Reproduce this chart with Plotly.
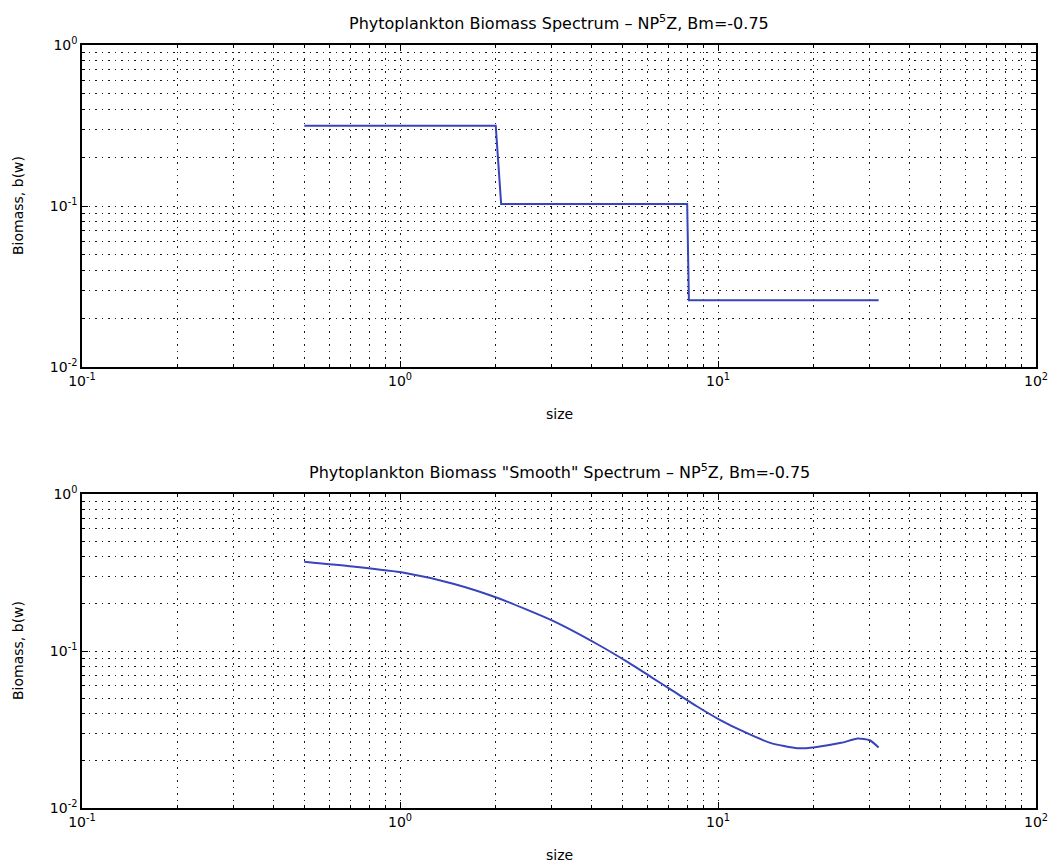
import numpy as np
import plotly.graph_objects as go

# ---- data ----
step_size = [0.5, 2.0, 2.08, 8.0, 8.1, 32.0]
step_biomass = [0.315, 0.315, 0.103, 0.103, 0.026, 0.026]

smooth_size = [0.5, 0.71, 1.03, 1.47, 2.06, 3.04, 4.19, 5.25, 6.18, 7.11, 8.6,
               10.1, 12.1, 14.6, 17.8, 20.2, 24.4, 27.5, 30.0, 32.0]
smooth_biomass = [0.37, 0.345, 0.315, 0.268, 0.215, 0.155, 0.110, 0.084, 0.068,
                  0.0568, 0.0443, 0.0366, 0.0305, 0.026, 0.0240, 0.0244, 0.0260,
                  0.0277, 0.0270, 0.0243]

x_major = [0.1, 1, 10, 100]
x_major_text = ["10<sup>-1</sup>", "10<sup>0</sup>", "10<sup>1</sup>", "10<sup>2</sup>"]
y_major = [0.01, 0.1, 1]
y_major_text = ["10<sup>-2</sup>", "10<sup>-1</sup>", "10<sup>0</sup>"]

titles = ["Phytoplankton Biomass Spectrum \u2013 NP<sup>5</sup>Z, Bm=-0.75",
          "Phytoplankton Biomass \"Smooth\" Spectrum \u2013 NP<sup>5</sup>Z, Bm=-0.75"]
x_label = "size"
y_label = "Biomass, b(w)"

x_minor = [k * 10.0 ** e for e in (-1, 0, 1) for k in range(2, 10)]
y_minor = [k * 10.0 ** e for e in (-2, -1) for k in range(2, 10)]

W, H = 1060, 867
FONT = "DejaVu Sans"
LINE = "rgb(55,68,188)"

fig = go.Figure()
fig.add_trace(go.Scatter(x=step_size, y=step_biomass, mode="lines",
                         line=dict(color=LINE, width=2), xaxis="x", yaxis="y",
                         showlegend=False))
fig.add_trace(go.Scatter(x=smooth_size, y=smooth_biomass, mode="lines",
                         line=dict(color=LINE, width=2, shape="spline", smoothing=0.6),
                         xaxis="x2", yaxis="y2", showlegend=False))

def px_x(p):
    return p / W

def px_y(p):
    return 1 - p / H

grid = dict(showgrid=True, gridcolor="rgba(0,0,0,0.9)", gridwidth=1.3,
            griddash="1.5px,5px")

def xaxis(domain, anchor):
    return dict(type="log", range=[-1, 2], domain=domain, anchor=anchor,
                automargin=False,
                tickvals=x_major, ticktext=x_major_text, ticks="inside", ticklen=6,
                tickcolor="black", showline=True, linecolor="black", linewidth=1.5,
                mirror="ticks", zeroline=False,
                tickfont=dict(family=FONT, size=14, color="black"),
                minor=dict(tickvals=x_minor, ticks="inside", ticklen=3,
                           tickcolor="black", **grid),
                **grid)

def yaxis(domain, anchor):
    return dict(type="log", range=[-2, 0], domain=domain, anchor=anchor,
                automargin=False,
                tickvals=y_major, ticktext=y_major_text, ticks="inside", ticklen=6,
                tickcolor="black", showline=True, linecolor="black", linewidth=1.5,
                mirror="ticks", zeroline=False,
                tickfont=dict(family=FONT, size=14, color="black"),
                minor=dict(tickvals=y_minor, ticks="inside", ticklen=3,
                           tickcolor="black", **grid),
                **grid)

L, R = 82, 1036
top1, bot1 = 45, 367
top2, bot2 = 494, 808

annotations = []
for (t, b, title) in [(top1, bot1, titles[0]), (top2, bot2, titles[1])]:
    annotations.append(dict(text=title, x=px_x((L + R) / 2), y=px_y(t - 10),
                            xref="paper", yref="paper", xanchor="center",
                            yanchor="bottom", showarrow=False,
                            font=dict(family=FONT, size=16, color="black")))
    annotations.append(dict(text=x_label, x=px_x((L + R) / 2), y=px_y(b + 37),
                            xref="paper", yref="paper", xanchor="center",
                            yanchor="top", showarrow=False,
                            font=dict(family=FONT, size=14, color="black")))
    annotations.append(dict(text=y_label, x=px_x(18), y=px_y((t + b) / 2),
                            xref="paper", yref="paper", xanchor="center",
                            yanchor="middle", textangle=-90, showarrow=False,
                            font=dict(family=FONT, size=14, color="black")))

fig.update_layout(
    width=W, height=H,
    margin=dict(l=0, r=0, t=0, b=0, autoexpand=False),
    paper_bgcolor="white", plot_bgcolor="white",
    xaxis=xaxis([px_x(L), px_x(R)], "y"),
    yaxis=yaxis([px_y(bot1), px_y(top1)], "x"),
    xaxis2=xaxis([px_x(L), px_x(R)], "y2"),
    yaxis2=yaxis([px_y(bot2), px_y(top2)], "x2"),
    annotations=annotations,
    font=dict(family=FONT, color="black"),
)

fig.write_html("out.html")
